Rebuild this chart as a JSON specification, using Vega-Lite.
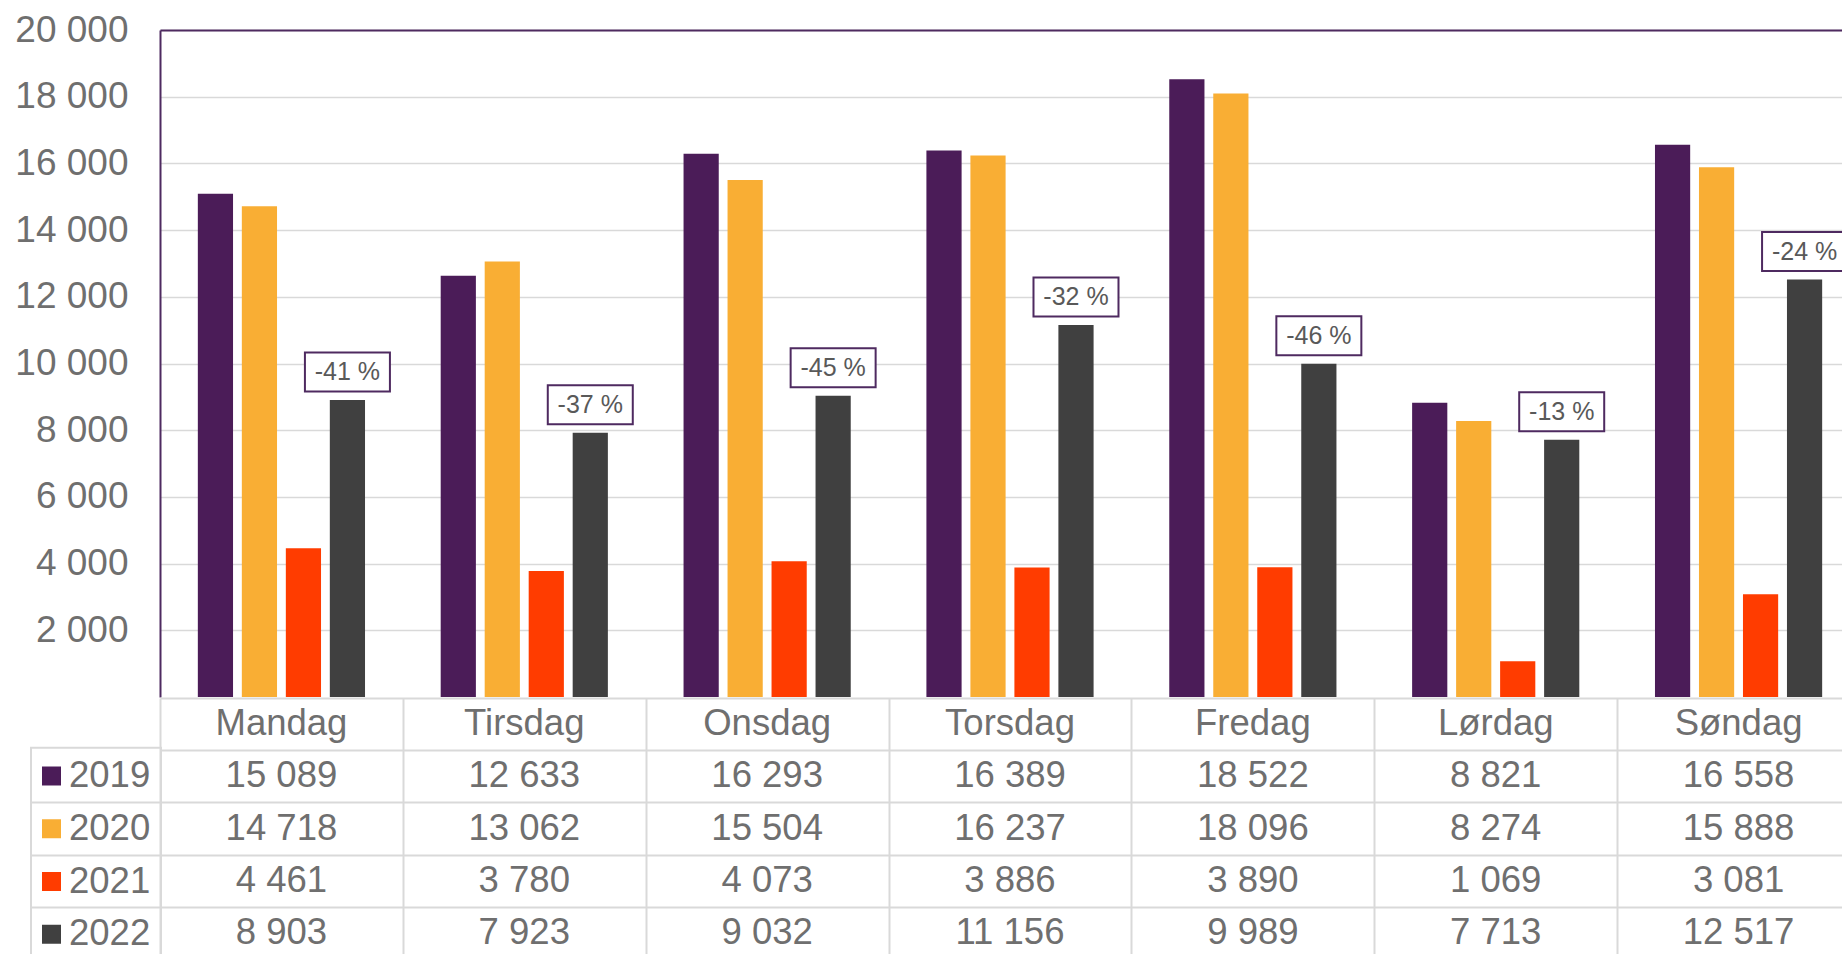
{
  "$schema": "https://vega.github.io/schema/vega-lite/v6.json",
  "padding": {"left": 14, "top": 11, "right": 0, "bottom": 0},
  "bounds": "flush",
  "spacing": 1,
  "config": {
    "font": "Liberation Sans",
    "view": {"stroke": null},
    "locale": {"number": {"decimal": ",", "thousands": " ", "grouping": [3], "currency": ["", ""]}},
    "legend": {"strokeWidth": 2}
  },
  "datasets": {
    "trips": [
      {"day": "Mandag", "year": "2019", "value": 15089},
      {"day": "Tirsdag", "year": "2019", "value": 12633},
      {"day": "Onsdag", "year": "2019", "value": 16293},
      {"day": "Torsdag", "year": "2019", "value": 16389},
      {"day": "Fredag", "year": "2019", "value": 18522},
      {"day": "Lørdag", "year": "2019", "value": 8821},
      {"day": "Søndag", "year": "2019", "value": 16558},
      {"day": "Mandag", "year": "2020", "value": 14718},
      {"day": "Tirsdag", "year": "2020", "value": 13062},
      {"day": "Onsdag", "year": "2020", "value": 15504},
      {"day": "Torsdag", "year": "2020", "value": 16237},
      {"day": "Fredag", "year": "2020", "value": 18096},
      {"day": "Lørdag", "year": "2020", "value": 8274},
      {"day": "Søndag", "year": "2020", "value": 15888},
      {"day": "Mandag", "year": "2021", "value": 4461},
      {"day": "Tirsdag", "year": "2021", "value": 3780},
      {"day": "Onsdag", "year": "2021", "value": 4073},
      {"day": "Torsdag", "year": "2021", "value": 3886},
      {"day": "Fredag", "year": "2021", "value": 3890},
      {"day": "Lørdag", "year": "2021", "value": 1069},
      {"day": "Søndag", "year": "2021", "value": 3081},
      {"day": "Mandag", "year": "2022", "value": 8903, "label": "-41 %"},
      {"day": "Tirsdag", "year": "2022", "value": 7923, "label": "-37 %"},
      {"day": "Onsdag", "year": "2022", "value": 9032, "label": "-45 %"},
      {"day": "Torsdag", "year": "2022", "value": 11156, "label": "-32 %"},
      {"day": "Fredag", "year": "2022", "value": 9989, "label": "-46 %"},
      {"day": "Lørdag", "year": "2022", "value": 7713, "label": "-13 %"},
      {"day": "Søndag", "year": "2022", "value": 12517, "label": "-24 %"}
    ]
  },
  "vconcat": [
    {
      "width": 1700,
      "height": 667,
      "data": {"name": "trips"},
      "encoding": {
        "x": {
          "field": "day", "type": "nominal",
          "sort": ["Mandag", "Tirsdag", "Onsdag", "Torsdag", "Fredag", "Lørdag", "Søndag"],
          "scale": {"type": "band", "paddingInner": 0, "paddingOuter": 0},
          "axis": {"orient": "top", "title": null, "labels": false, "ticks": false, "grid": false, "domainColor": "#4e2a60", "domainWidth": 2}
        },
        "xOffset": {
          "field": "year", "type": "nominal",
          "scale": {"paddingInner": 0.2, "paddingOuter": 0.86}
        },
        "y": {
          "field": "value", "type": "quantitative",
          "scale": {"domain": [0, 20000], "nice": false},
          "axis": {
            "title": null,
            "values": [2000, 4000, 6000, 8000, 10000, 12000, 14000, 16000, 18000, 20000],
            "format": ",d",
            "grid": true, "gridColor": "#d9d9d9", "gridWidth": 1.5,
            "ticks": false,
            "domainColor": "#4e2a60", "domainWidth": 2,
            "labelFontSize": 37, "labelColor": "#6f6f6f", "labelPadding": 32
          }
        }
      },
      "layer": [
        {
          "mark": {"type": "bar"},
          "encoding": {
            "color": {
              "field": "year", "type": "nominal",
              "scale": {"domain": ["2019", "2020", "2021", "2022"], "range": ["#4b1c58", "#f9ae34", "#ff3c00", "#404040"]},
              "legend": {
                "orient": "none", "legendX": -129, "legendY": 717.75,
                "title": null, "direction": "vertical",
                "symbolType": "square", "symbolSize": 361, "symbolStrokeWidth": 0, "symbolOpacity": 1,
                "symbolOffset": -7.75,
                "labelFontSize": 36.5, "labelColor": "#6f6f6f", "labelOffset": -0.75,
                "rowPadding": 15.75, "padding": 10, "strokeColor": "#d9d9d9"
              }
            }
          }
        },
        {
          "transform": [{"filter": "datum.year === '2022'"}],
          "mark": {
            "type": "point",
            "shape": "M-1,-0.4588L1,-0.4588L1,0.4588L-1,0.4588Z",
            "size": 7225,
            "fill": "#ffffff", "fillOpacity": 1,
            "stroke": "#4e2a60", "strokeWidth": 2, "strokeOpacity": 1,
            "opacity": 1,
            "yOffset": -28
          }
        },
        {
          "transform": [{"filter": "datum.year === '2022'"}],
          "mark": {"type": "text", "fontSize": 25, "color": "#595959", "baseline": "middle", "yOffset": -28},
          "encoding": {"text": {"field": "label", "type": "nominal"}}
        }
      ]
    },
    {
      "width": 1700,
      "height": 261,
      "data": {"name": "trips"},
      "encoding": {
        "x": {
          "field": "day", "type": "nominal",
          "sort": ["Mandag", "Tirsdag", "Onsdag", "Torsdag", "Fredag", "Lørdag", "Søndag"],
          "scale": {"type": "band", "paddingInner": 0, "paddingOuter": 0},
          "axis": {"orient": "top", "title": null, "labels": false, "ticks": false, "domain": false, "grid": true, "tickBand": "extent", "gridColor": "#d9d9d9", "gridWidth": 2}
        }
      },
      "layer": [
        {
          "mark": {"type": "text", "fontSize": 36.5, "color": "#6f6f6f", "baseline": "middle"},
          "encoding": {
            "y": {
              "field": "year", "type": "nominal",
              "scale": {"type": "band", "domain": ["hdr", "2019", "2020", "2021", "2022"], "paddingInner": 0, "paddingOuter": 0},
              "axis": {
                "title": null, "labels": false, "domain": false,
                "grid": true, "tickBand": "extent", "gridColor": "#d9d9d9", "gridWidth": 2,
                "ticks": true, "tickSize": 129, "tickColor": "#d9d9d9", "tickWidth": 2,
                "tickOpacity": {"condition": {"test": "datum.value == null || datum.value === 'hdr'", "value": 0}, "value": 1}
              }
            },
            "text": {"field": "value", "type": "quantitative", "format": ",d"}
          }
        },
        {
          "transform": [{"filter": "datum.year === '2019'"}],
          "mark": {"type": "text", "fontSize": 36.5, "color": "#6f6f6f", "baseline": "middle"},
          "encoding": {
            "y": {"datum": "hdr", "type": "nominal"},
            "text": {"field": "day", "type": "nominal"}
          }
        }
      ]
    }
  ]
}
